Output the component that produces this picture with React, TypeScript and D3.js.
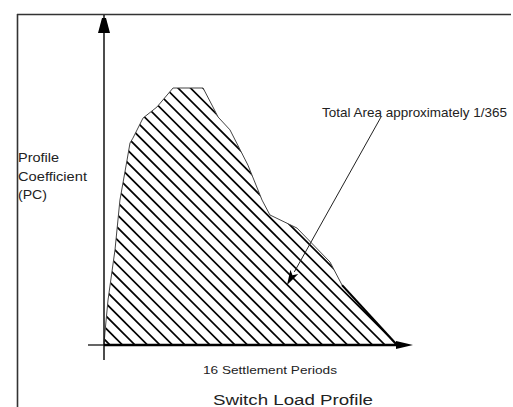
import React from "react";
import * as d3 from "d3";

// Settlement period (x, 0..16) and profile coefficient (relative, peak = 1)
const periods = [0, 0.05, 0.22, 0.6, 0.87, 1.26, 1.42, 1.58, 2.13, 2.89, 3.77, 5.41, 5.95, 6.23, 6.88, 7.86, 8.63, 9.06, 10.54, 12.34, 13.0, 16];
const coefficients = [0, 0.047, 0.175, 0.37, 0.564, 0.72, 0.786, 0.805, 0.883, 0.926, 1.0, 1.0, 0.926, 0.887, 0.837, 0.70, 0.564, 0.506, 0.455, 0.323, 0.233, 0];

const yLabelLines = ["Profile", "Coefficient", "(PC)"];
const yLabelLengths = [41, 69, 29];
const xLabel = "16 Settlement Periods";
const title = "Switch Load Profile";
const annotation = "Total Area approximately 1/365";

const W = 513;
const H = 407;

export default function App() {
  const x = d3.scaleLinear().domain([0, 16]).range([104, 397]);
  const y = d3.scaleLinear().domain([0, 1]).range([345, 88]);

  const pts = periods.map((p, i) => [p, coefficients[i]] as [number, number]);
  const area = d3
    .area<[number, number]>()
    .x((d) => x(d[0]))
    .y0(y(0))
    .y1((d) => y(d[1]));
  const outline = d3
    .line<[number, number]>()
    .x((d) => x(d[0]))
    .y((d) => y(d[1]));

  const lastTwo = pts.slice(pts.length - 2);
  const restLine = pts.slice(0, pts.length - 1);

  // hatch lines: x - y = c
  const hatch: number[] = [];
  for (let c = -260; c <= 320; c += 12.5) hatch.push(c);

  const ax = x(0);
  const ay = y(0);

  // annotation arrow
  const a0 = [381, 117];
  const a1 = [287, 285];
  const ang = Math.atan2(a1[1] - a0[1], a1[0] - a0[0]);
  const hl = 15;
  const hw = 4.5;
  const bx = a1[0] - hl * Math.cos(ang);
  const by = a1[1] - hl * Math.sin(ang);
  const px = -Math.sin(ang);
  const py = Math.cos(ang);
  const head = `M${a1[0]},${a1[1]}L${bx + hw * px},${by + hw * py}L${bx + hl * 0.25 * Math.cos(ang)},${by + hl * 0.25 * Math.sin(ang)}L${bx - hw * px},${by - hw * py}Z`;

  return (
    <svg
      width={W}
      height={H}
      style={{ position: "absolute", left: 0, top: 0, background: "#fff" }}
      fontFamily="'Liberation Sans', Arial, sans-serif"
    >
      <defs>
        <clipPath id="areaClip">
          <path d={area(pts) || ""} />
        </clipPath>
      </defs>
      {/* frame */}
      <line x1={17} y1={14.5} x2={511} y2={14.5} stroke="#333" strokeWidth={1.6} />
      <line x1={17.5} y1={14} x2={17.5} y2={H} stroke="#333" strokeWidth={1.6} />

      {/* hatch */}
      <g clipPath="url(#areaClip)">
        {hatch.map((c, i) => (
          <line key={i} x1={80 + c} y1={80} x2={360 + c} y2={360} stroke="#000" strokeWidth={1.7} />
        ))}
      </g>
      {/* outline */}
      <path d={outline(restLine) || ""} fill="none" stroke="#444" strokeWidth={1} />
      <path d={outline(lastTwo) || ""} fill="none" stroke="#000" strokeWidth={2.2} />

      {/* y axis */}
      <line x1={ax} y1={15} x2={ax} y2={360} stroke="#111" strokeWidth={1.5} />
      <path d={`M${ax - 2},18L${ax + 2},18L${ax + 6},33L${ax - 6},33Z`} fill="#000" />
      {/* x axis */}
      <line x1={88} y1={ay} x2={ax} y2={ay} stroke="#111" strokeWidth={1.3} />
      <line x1={ax} y1={ay} x2={398} y2={ay} stroke="#000" strokeWidth={2.6} />
      <path d={`M396,${ay - 4}L413,${ay}L396,${ay + 4}Z`} fill="#000" />

      {/* annotation */}
      <line x1={a0[0]} y1={a0[1]} x2={bx} y2={by} stroke="#222" strokeWidth={1} />
      <path d={head} fill="#000" />
      <text x={322} y={117} fontSize={13} fill="#222" textLength={185} lengthAdjust="spacingAndGlyphs">
        {annotation}
      </text>

      {/* y label */}
      {yLabelLines.map((t, i) => (
        <text
          key={t}
          x={18}
          y={162 + i * 18.5}
          fontSize={12.5}
          fill="#222"
          textLength={yLabelLengths[i]}
          lengthAdjust="spacingAndGlyphs"
        >
          {t}
        </text>
      ))}

      <text x={203} y={374} fontSize={11} fill="#222" textLength={134} lengthAdjust="spacingAndGlyphs">
        {xLabel}
      </text>
      <text x={213} y={405} fontSize={15.5} fill="#222" textLength={160} lengthAdjust="spacingAndGlyphs">
        {title}
      </text>
    </svg>
  );
}
